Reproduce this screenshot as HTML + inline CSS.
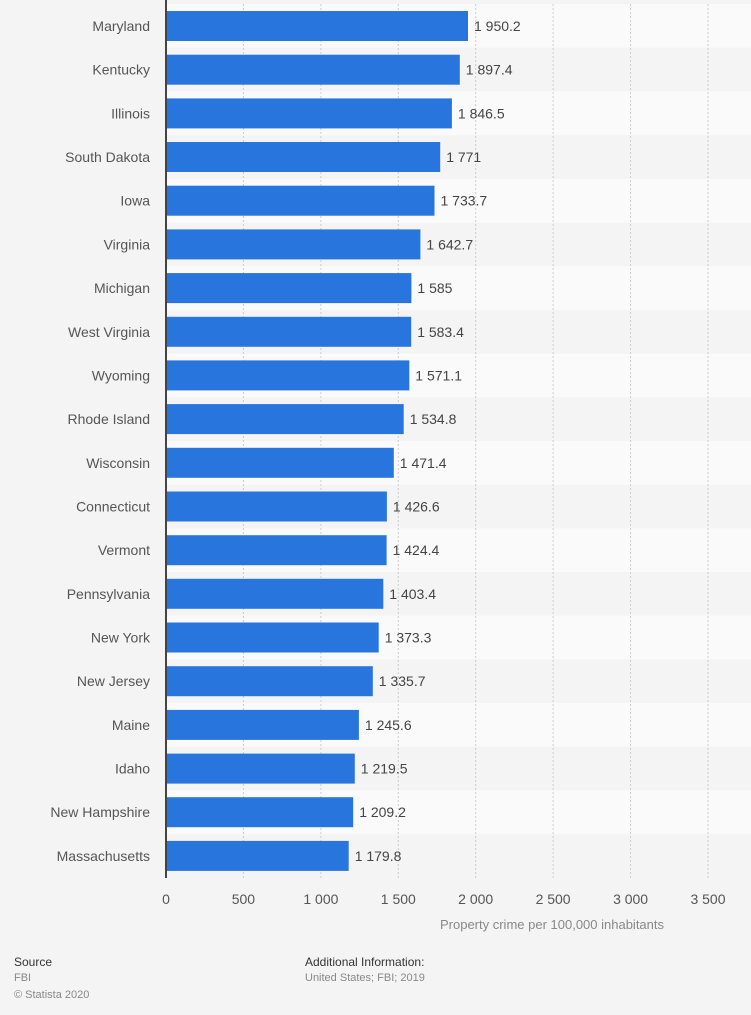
<!DOCTYPE html>
<html><head><style>
body{margin:0;width:751px;height:1015px;background:#f4f4f4;overflow:hidden}
svg text{font-family:"Liberation Sans",sans-serif}
</style></head><body>
<svg width="751" height="1015" style="position:absolute;left:0;top:0">
<g fill="#fafafa">
<rect x="166" y="4" width="585" height="43.7"/>
<rect x="166" y="91.5" width="585" height="43.7"/>
<rect x="166" y="178.9" width="585" height="43.7"/>
<rect x="166" y="266.2" width="585" height="43.7"/>
<rect x="166" y="353.6" width="585" height="43.7"/>
<rect x="166" y="441" width="585" height="43.7"/>
<rect x="166" y="528.3" width="585" height="43.7"/>
<rect x="166" y="615.7" width="585" height="43.7"/>
<rect x="166" y="703" width="585" height="43.7"/>
<rect x="166" y="790.4" width="585" height="43.7"/>
</g>
<g stroke="#ccc" stroke-dasharray="2,2">
<line x1="243.4" y1="4" x2="243.4" y2="878"/>
<line x1="320.9" y1="4" x2="320.9" y2="878"/>
<line x1="398.3" y1="4" x2="398.3" y2="878"/>
<line x1="475.7" y1="4" x2="475.7" y2="878"/>
<line x1="553.1" y1="4" x2="553.1" y2="878"/>
<line x1="630.6" y1="4" x2="630.6" y2="878"/>
<line x1="708" y1="4" x2="708" y2="878"/>
</g>
<g fill="#2876dd">
<rect x="166" y="11" width="302" height="30"/>
<rect x="166" y="54.7" width="293.8" height="30"/>
<rect x="166" y="98.4" width="285.9" height="30"/>
<rect x="166" y="142" width="274.2" height="30"/>
<rect x="166" y="185.7" width="268.5" height="30"/>
<rect x="166" y="229.4" width="254.4" height="30"/>
<rect x="166" y="273.1" width="245.4" height="30"/>
<rect x="166" y="316.8" width="245.2" height="30"/>
<rect x="166" y="360.4" width="243.3" height="30"/>
<rect x="166" y="404.1" width="237.7" height="30"/>
<rect x="166" y="447.8" width="227.8" height="30"/>
<rect x="166" y="491.5" width="220.9" height="30"/>
<rect x="166" y="535.2" width="220.6" height="30"/>
<rect x="166" y="578.8" width="217.3" height="30"/>
<rect x="166" y="622.5" width="212.7" height="30"/>
<rect x="166" y="666.2" width="206.8" height="30"/>
<rect x="166" y="709.9" width="192.9" height="30"/>
<rect x="166" y="753.6" width="188.8" height="30"/>
<rect x="166" y="797.2" width="187.2" height="30"/>
<rect x="166" y="840.9" width="182.7" height="30"/>
</g>
<g font-size="14" fill="#555" text-anchor="end">
<text x="150" y="31">Maryland</text>
<text x="150" y="74.7">Kentucky</text>
<text x="150" y="118.4">Illinois</text>
<text x="150" y="162">South Dakota</text>
<text x="150" y="205.7">Iowa</text>
<text x="150" y="249.4">Virginia</text>
<text x="150" y="293.1">Michigan</text>
<text x="150" y="336.8">West Virginia</text>
<text x="150" y="380.4">Wyoming</text>
<text x="150" y="424.1">Rhode Island</text>
<text x="150" y="467.8">Wisconsin</text>
<text x="150" y="511.5">Connecticut</text>
<text x="150" y="555.2">Vermont</text>
<text x="150" y="598.8">Pennsylvania</text>
<text x="150" y="642.5">New York</text>
<text x="150" y="686.2">New Jersey</text>
<text x="150" y="729.9">Maine</text>
<text x="150" y="773.6">Idaho</text>
<text x="150" y="817.2">New Hampshire</text>
<text x="150" y="860.9">Massachusetts</text>
</g>
<g font-size="14" fill="#444">
<text x="474" y="31">1 950.2</text>
<text x="465.8" y="74.7">1 897.4</text>
<text x="457.9" y="118.4">1 846.5</text>
<text x="446.2" y="162">1 771</text>
<text x="440.5" y="205.7">1 733.7</text>
<text x="426.4" y="249.4">1 642.7</text>
<text x="417.4" y="293.1">1 585</text>
<text x="417.2" y="336.8">1 583.4</text>
<text x="415.3" y="380.4">1 571.1</text>
<text x="409.7" y="424.1">1 534.8</text>
<text x="399.8" y="467.8">1 471.4</text>
<text x="392.9" y="511.5">1 426.6</text>
<text x="392.6" y="555.2">1 424.4</text>
<text x="389.3" y="598.8">1 403.4</text>
<text x="384.7" y="642.5">1 373.3</text>
<text x="378.8" y="686.2">1 335.7</text>
<text x="364.9" y="729.9">1 245.6</text>
<text x="360.8" y="773.6">1 219.5</text>
<text x="359.2" y="817.2">1 209.2</text>
<text x="354.7" y="860.9">1 179.8</text>
</g>
<g font-size="14" fill="#555" text-anchor="middle">
<text x="166" y="904">0</text>
<text x="243.4" y="904">500</text>
<text x="320.9" y="904">1 000</text>
<text x="398.3" y="904">1 500</text>
<text x="475.7" y="904">2 000</text>
<text x="553.1" y="904">2 500</text>
<text x="630.6" y="904">3 000</text>
<text x="708" y="904">3 500</text>
</g>
<line x1="166" y1="0" x2="166" y2="878" stroke="#444" stroke-width="2"/>
<text x="664" y="929" text-anchor="end" font-size="13" fill="#888">Property crime per 100,000 inhabitants</text>
<text x="14" y="966" font-size="12" fill="#333">Source</text>
<text x="14" y="981" font-size="11" fill="#888">FBI</text>
<text x="14" y="998" font-size="11" fill="#888">© Statista 2020</text>
<text x="305" y="966" font-size="12" fill="#333">Additional Information:</text>
<text x="305" y="981" font-size="11" fill="#888">United States; FBI; 2019</text>
</svg>
</body></html>
